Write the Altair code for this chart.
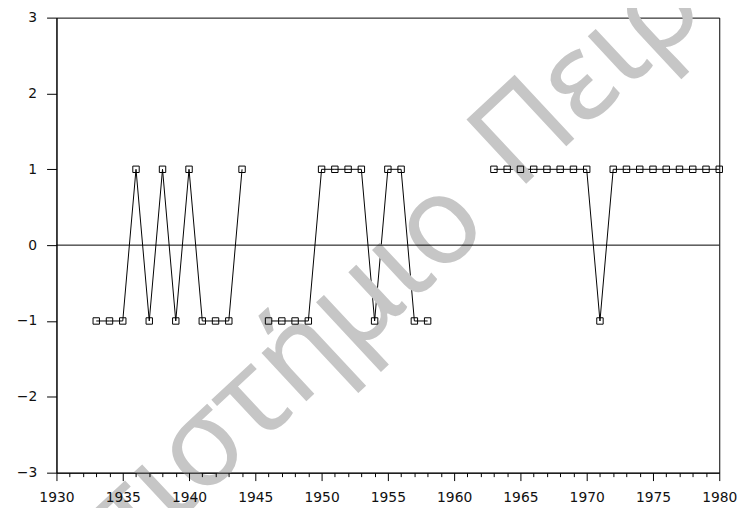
import altair as alt
import pandas as pd

years = [1933, 1934, 1935, 1936, 1937, 1938, 1939, 1940, 1941, 1942, 1943, 1944,
         1946, 1947, 1948, 1949, 1950, 1951, 1952, 1953, 1954, 1955, 1956, 1957, 1958,
         1963, 1964, 1965, 1966, 1967, 1968, 1969, 1970, 1971, 1972, 1973, 1974,
         1975, 1976, 1977, 1978, 1979, 1980]
values = [-1, -1, -1, 1, -1, 1, -1, 1, -1, -1, -1, 1,
          -1, -1, -1, -1, 1, 1, 1, 1, -1, 1, 1, -1, -1,
          1, 1, 1, 1, 1, 1, 1, 1, -1, 1, 1, 1,
          1, 1, 1, 1, 1, 1]
x_ticks = list(range(1930, 1981))
y_ticks = [-3, -2, -1, 0, 1, 2, 3]
watermark_words = ["Πανεπιστήμιο", "Πειραιώς"]

# split the series into runs of consecutive years (gaps break the line)
seg, s = [], 0
for i, yr in enumerate(years):
    if i > 0 and yr - years[i - 1] > 1:
        s += 1
    seg.append(s)
df = pd.DataFrame({"year": years, "value": values, "seg": seg})

W, H = 670, 460
xs = alt.Scale(domain=[1930, 1980], nice=False, zero=False)
ys = alt.Scale(domain=[-3, 3], nice=False, zero=False)

x_axis = alt.Axis(values=x_ticks, format="d", title=None, grid=False,
                  labelExpr="datum.value % 5 === 0 ? datum.label : ''",
                  tickSize={"condition": {"test": "datum.value % 5 === 0", "value": 8}, "value": 4},
                  labelOverlap=False, labelFlush=False, labelPadding=10,
                  labelFont="DejaVu Sans", labelFontSize=14, labelColor="#111",
                  domainColor="black", tickColor="black", zindex=1)
y_axis = alt.Axis(values=y_ticks, format="d", title=None, grid=False,
                  tickSize=10, labelPadding=10, labelOverlap=False,
                  labelFont="DejaVu Sans", labelFontSize=14, labelColor="#111",
                  domainColor="black", tickColor="black", zindex=1)

X = alt.X("year:Q", scale=xs, axis=x_axis)
Y = alt.Y("value:Q", scale=ys, axis=y_axis)

base = alt.Chart(df)

line = base.mark_line(color="black", strokeWidth=1).encode(x=X, y=Y, detail="seg:N")

pts = base.mark_point(shape="square", size=42, filled=False, color="black",
                      strokeWidth=1, opacity=1).encode(x=X, y=Y)

zero = alt.Chart(pd.DataFrame({"value": [0]})).mark_rule(color="black", strokeWidth=1).encode(y=Y)

wm1 = alt.Chart(pd.DataFrame({"t": [watermark_words[0]]})).mark_text(
    font="Noto Sans", fontSize=124, color="#c6c6c6", angle=317,
    align="right", baseline="alphabetic"
).encode(text="t:N", x=alt.value(440), y=alt.value(213))
wm2 = alt.Chart(pd.DataFrame({"t": [watermark_words[1]]})).mark_text(
    font="Noto Sans", fontSize=124, color="#c6c6c6", angle=317,
    align="left", baseline="alphabetic"
).encode(text="t:N", x=alt.value(466), y=alt.value(176))

chart = alt.layer(line, wm1, wm2, zero, pts).properties(
    width=W, height=H,
    autosize=alt.AutoSizeParams(type="none"),
    padding={"left": 49, "top": 7, "right": 24, "bottom": 33},
    background="white",
).configure_view(stroke="black", strokeWidth=1)

chart.save("out.html", embed_options={"renderer": "svg", "actions": False})
